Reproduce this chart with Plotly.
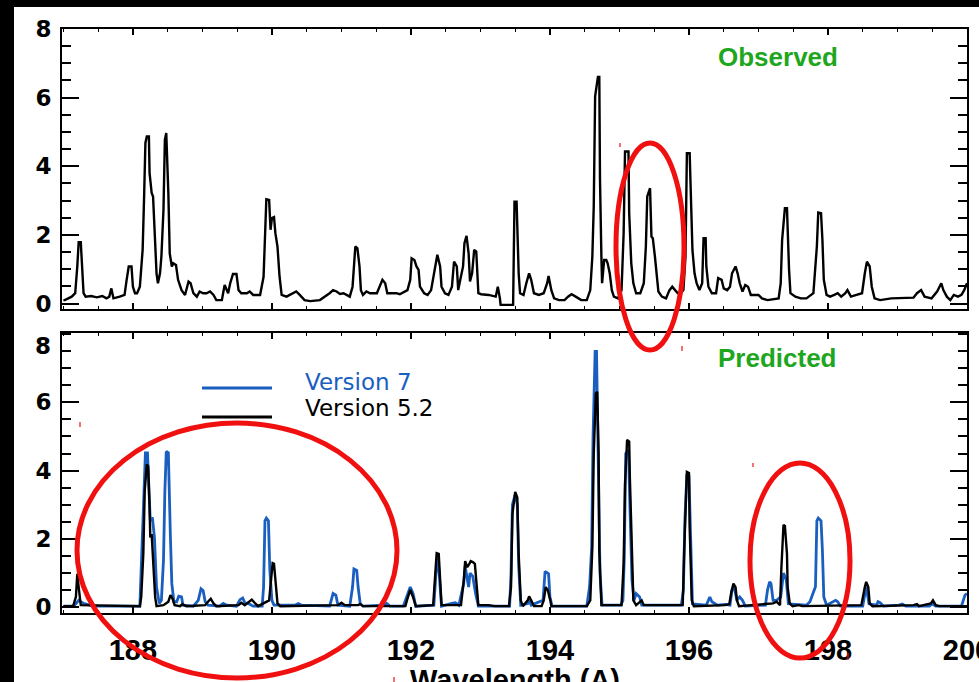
import plotly.graph_objects as go

# ---------------- data ----------------
obs_wl = [187.00, 187.02, 187.12, 187.17, 187.20, 187.22, 187.25, 187.27, 187.29, 187.32,
          187.40, 187.48, 187.56, 187.62, 187.66, 187.69, 187.72, 187.81, 187.88,
          187.91, 187.94, 187.98, 188.00, 188.03, 188.06, 188.10, 188.14, 188.16, 188.18,
          188.20, 188.23, 188.24, 188.27, 188.29, 188.32, 188.34, 188.36, 188.39, 188.41,
          188.44, 188.46, 188.48, 188.51, 188.53, 188.56, 188.58, 188.62, 188.65, 188.70,
          188.75, 188.80, 188.83, 188.87, 188.92, 188.96, 189.01, 189.06, 189.11, 189.16,
          189.20, 189.28, 189.32, 189.37, 189.40, 189.44, 189.49, 189.52, 189.56, 189.64,
          189.68, 189.73, 189.83, 189.88, 189.90, 189.92, 189.96, 189.98, 190.00, 190.03,
          190.05, 190.08, 190.11, 190.14, 190.21, 190.31, 190.35, 190.40, 190.47, 190.55,
          190.69, 190.83, 190.88, 190.93, 190.98, 191.03, 191.07, 191.12, 191.16, 191.18,
          191.20, 191.23, 191.26, 191.28, 191.31, 191.36, 191.41, 191.51, 191.55, 191.59,
          191.63, 191.66, 191.79, 191.84, 191.95, 191.99, 192.01, 192.05, 192.08, 192.11,
          192.13, 192.19, 192.24, 192.29, 192.35, 192.38, 192.42, 192.44, 192.49, 192.54,
          192.59, 192.62, 192.66, 192.68, 192.71, 192.75, 192.77, 192.80, 192.83, 192.85,
          192.88, 192.91, 192.94, 192.97, 193.01, 193.12, 193.22, 193.25, 193.28, 193.29,
          193.47, 193.49, 193.52, 193.53, 193.55, 193.57, 193.62, 193.66, 193.70, 193.73,
          193.77, 193.84, 193.91, 193.96, 193.98, 194.02, 194.06, 194.13, 194.21, 194.26,
          194.31, 194.37, 194.45, 194.53, 194.58, 194.61, 194.63, 194.65, 194.69, 194.71,
          194.72, 194.74, 194.75, 194.78, 194.81, 194.83, 194.86, 194.89, 194.92, 194.98,
          195.03, 195.06, 195.08, 195.13, 195.14, 195.17, 195.20, 195.24, 195.30, 195.35,
          195.38, 195.40, 195.44, 195.46, 195.48, 195.51, 195.54, 195.56, 195.61, 195.67,
          195.72, 195.76, 195.80, 195.84, 195.88, 195.92, 195.95, 195.97, 196.01, 196.03,
          196.05, 196.08, 196.11, 196.15, 196.19, 196.21, 196.24, 196.25, 196.28, 196.33,
          196.39, 196.42, 196.47, 196.50, 196.55, 196.59, 196.62, 196.67, 196.70, 196.73,
          196.77, 196.81, 196.85, 196.89, 197.00, 197.05, 197.13, 197.29, 197.32, 197.34,
          197.38, 197.41, 197.42, 197.44, 197.46, 197.53, 197.61, 197.69, 197.79, 197.84,
          197.86, 197.90, 197.92, 197.94, 197.98, 198.03, 198.09, 198.14, 198.19, 198.25,
          198.28, 198.33, 198.41, 198.49, 198.53, 198.56, 198.60, 198.63, 198.67, 198.75,
          198.91, 199.07, 199.23, 199.28, 199.34, 199.39, 199.49, 199.57, 199.63, 199.66,
          199.71, 199.76, 199.81, 199.87, 199.92, 199.96, 200.00]
obs_int = [0.10, 0.10, 0.20, 0.30, 1.08, 1.79, 1.79, 1.17, 0.30, 0.20,
           0.22, 0.18, 0.22, 0.15, 0.20, 0.44, 0.15, 0.20, 0.25,
           0.69, 1.08, 1.08, 0.49, 0.30, 0.30, 0.49, 1.56, 3.02, 4.68,
           4.87, 4.87, 3.80, 3.22, 3.12, 1.95, 0.88, 0.59, 0.88, 1.37,
           2.73, 4.77, 4.97, 3.22, 1.46, 1.08, 1.17, 1.12, 0.69, 0.39,
           0.25, 0.64, 0.59, 0.30, 0.20, 0.35, 0.30, 0.30, 0.35, 0.25,
           0.10, 0.10, 0.54, 0.30, 0.59, 0.86, 0.86, 0.39, 0.30, 0.30,
           0.35, 0.25, 0.25, 0.78, 1.85, 3.04, 3.02, 2.15, 2.49, 2.52,
           2.05, 1.66, 0.78, 0.25, 0.20, 0.30, 0.35, 0.25, 0.10, 0.07,
           0.10, 0.30, 0.39, 0.35, 0.28, 0.30, 0.25, 0.20, 0.49, 1.17,
           1.66, 1.61, 1.08, 0.39, 0.25, 0.35, 0.30, 0.30, 0.49, 0.69,
           0.59, 0.30, 0.30, 0.27, 0.39, 0.69, 1.32, 1.27, 1.08, 0.98,
           0.49, 0.30, 0.25, 0.39, 1.08, 1.42, 1.08, 0.49, 0.30, 0.25,
           0.49, 1.22, 1.08, 0.39, 0.69, 1.08, 1.76, 1.97, 1.46, 0.64,
           0.88, 1.56, 1.51, 0.30, 0.27, 0.25, 0.20, 0.49, 0.15, -0.04,
           -0.04, 2.97, 2.97, 2.15, 0.88, 0.30, 0.25, 0.59, 0.88, 0.69,
           0.30, 0.25, 0.30, 0.59, 0.80, 0.39, 0.15, 0.10, 0.10, 0.20,
           0.27, 0.20, 0.10, 0.10, 0.39, 1.37, 2.83, 6.04, 6.60, 6.60,
           3.61, 1.37, 0.59, 1.27, 1.27, 1.17, 0.88, 0.39, 0.20, 0.15,
           0.39, 2.05, 4.43, 4.43, 2.63, 1.17, 0.59, 0.30, 0.30, 0.59,
           1.66, 3.12, 3.36, 1.95, 1.90, 1.37, 0.59, 0.35, 0.20, 0.15,
           0.39, 0.49, 0.39, 0.30, 0.30, 0.39, 1.37, 4.38, 4.38, 2.63,
           1.56, 0.88, 0.59, 0.39, 0.59, 1.90, 1.90, 1.08, 0.49, 0.30,
           0.30, 0.74, 0.69, 0.44, 0.39, 0.49, 0.88, 1.08, 0.88, 0.59,
           0.35, 0.54, 0.49, 0.25, 0.25, 0.15, 0.10, 0.15, 0.59, 1.85,
           2.78, 2.78, 1.85, 0.98, 0.30, 0.20, 0.15, 0.15, 0.30, 1.66,
           2.65, 2.63, 1.85, 0.69, 0.25, 0.20, 0.25, 0.30, 0.20, 0.30,
           0.39, 0.20, 0.25, 0.30, 0.88, 1.22, 1.08, 0.49, 0.15, 0.10,
           0.15, 0.15, 0.17, 0.30, 0.39, 0.20, 0.15, 0.35, 0.59, 0.39,
           0.20, 0.10, 0.25, 0.20, 0.25, 0.39, 0.59]

v52_wl = [187.00, 187.14, 187.18, 187.20, 187.22, 187.25, 188.10, 188.12, 188.15, 188.17,
          188.20, 188.22, 188.24, 188.25, 188.27, 188.29, 188.32, 188.34, 188.44, 188.51,
          188.54, 188.57, 188.60, 188.68, 188.71, 188.77, 189.04, 189.08, 189.12, 189.16,
          189.20, 189.52, 189.56, 189.61, 189.66, 189.71, 189.76, 189.80, 189.96, 189.99,
          190.01, 190.03, 190.06, 190.08, 190.12, 190.95, 191.00, 191.05, 191.24, 191.27,
          191.31, 191.92, 191.95, 191.99, 192.03, 192.07, 192.32, 192.35, 192.37, 192.40,
          192.42, 192.44, 192.72, 192.76, 192.78, 192.81, 192.84, 192.86, 192.89, 192.92,
          192.94, 192.97, 193.12, 193.20, 193.41, 193.44, 193.46, 193.50, 193.53, 193.55,
          193.58, 193.61, 193.68, 193.70, 193.73, 193.77, 193.88, 193.91, 193.94, 193.97,
          194.01, 194.02, 194.53, 194.58, 194.61, 194.63, 194.66, 194.68, 194.70, 194.71,
          194.74, 195.03, 195.06, 195.08, 195.11, 195.14, 195.15, 195.17, 195.20, 195.24,
          195.30, 195.32, 195.35, 195.91, 195.93, 195.95, 195.97, 196.00, 196.01, 196.04,
          196.07, 196.52, 196.58, 196.61, 196.64, 196.67, 196.69, 196.72, 197.21, 197.26,
          197.31, 197.33, 197.36, 197.38, 197.41, 197.42, 197.45, 197.49, 197.58, 197.63,
          198.48, 198.53, 198.55, 198.58, 198.60, 198.64, 199.23, 199.28, 199.31, 199.48,
          199.51, 199.55, 199.60, 200.00]
v52_int = [0.03, 0.03, 0.30, 0.98, 0.59, 0.06, 0.03, 0.30, 1.56, 3.40,
           4.18, 4.13, 2.92, 2.04, 2.14, 1.37, 0.30, 0.03, 0.06, 0.16,
           0.35, 0.25, 0.06, 0.03, 0.09, 0.03, 0.06, 0.16, 0.25, 0.11,
           0.03, 0.06, 0.13, 0.06, 0.13, 0.22, 0.11, 0.03, 0.20, 0.88,
           1.29, 1.27, 0.59, 0.11, 0.03, 0.06, 0.13, 0.06, 0.06, 0.09,
           0.03, 0.03, 0.25, 0.51, 0.30, 0.03, 0.06, 0.98, 1.58, 1.56,
           0.78, 0.06, 0.06, 0.78, 1.35, 1.17, 1.27, 1.35, 1.32, 1.27,
           0.78, 0.06, 0.06, 0.03, 0.03, 0.59, 2.72, 3.38, 3.21, 1.56,
           0.20, 0.03, 0.20, 0.32, 0.20, 0.03, 0.03, 0.20, 0.59, 0.49,
           0.16, 0.03, 0.03, 0.20, 1.75, 4.47, 6.26, 6.31, 4.47, 1.66,
           0.06, 0.06, 1.27, 3.59, 4.90, 4.85, 3.79, 2.34, 0.20, 0.06,
           0.16, 0.20, 0.06, 0.06, 1.56, 2.63, 3.96, 3.93, 2.34, 0.20,
           0.03, 0.06, 0.09, 0.45, 0.69, 0.59, 0.20, 0.03, 0.11, 0.16,
           0.06, 1.17, 2.41, 2.38, 1.56, 0.59, 0.11, 0.03, 0.06, 0.03,
           0.06, 0.59, 0.74, 0.59, 0.11, 0.03, 0.06, 0.09, 0.03, 0.11,
           0.20, 0.06, 0.03, 0.03]

v7_wl = [187.00, 187.15, 187.22, 187.29, 187.33, 187.43, 188.10, 188.12, 188.16, 188.18,
         188.21, 188.23, 188.25, 188.28, 188.31, 188.34, 188.38, 188.41, 188.44, 188.46,
         188.48, 188.51, 188.52, 188.54, 188.56, 188.59, 188.63, 188.66, 188.70, 188.72,
         188.87, 188.94, 188.98, 189.01, 189.04, 189.08, 189.25, 189.30, 189.35, 189.49,
         189.54, 189.58, 189.61, 189.66, 189.73, 189.86, 189.88, 189.90, 189.92, 189.95,
         189.97, 190.00, 190.03, 190.33, 190.38, 190.43, 190.83, 190.86, 190.88, 190.92,
         190.95, 191.12, 191.16, 191.18, 191.22, 191.24, 191.27, 191.31, 191.60, 191.65,
         191.70, 191.89, 191.95, 191.99, 192.03, 192.07, 192.33, 192.36, 192.39, 192.42,
         192.44, 192.59, 192.64, 192.69, 192.76, 192.78, 192.83, 192.85, 192.89, 192.93,
         192.97, 193.42, 193.44, 193.46, 193.50, 193.53, 193.55, 193.58, 193.68, 193.70,
         193.73, 193.90, 193.93, 193.98, 194.00, 194.03, 194.53, 194.57, 194.60, 194.62,
         194.65, 194.67, 194.70, 194.72, 194.75, 195.02, 195.05, 195.07, 195.09, 195.13,
         195.15, 195.18, 195.21, 195.24, 195.29, 195.32, 195.89, 195.92, 195.94, 195.97,
         196.00, 196.02, 196.05, 196.25, 196.30, 196.33, 196.41, 196.52, 196.59, 196.62,
         196.65, 196.69, 196.73, 196.77, 196.81, 197.10, 197.13, 197.16, 197.18, 197.21,
         197.26, 197.32, 197.36, 197.40, 197.43, 197.69, 197.74, 197.82, 197.84, 197.86,
         197.90, 197.92, 197.94, 197.98, 198.11, 198.14, 198.18, 198.50, 198.53, 198.55,
         198.59, 198.70, 198.72, 198.75, 198.80, 199.02, 199.07, 199.12, 199.46, 199.50,
         199.55, 199.92, 199.97, 200.00]
v7_int = [0.03, 0.03, 0.20, 0.11, 0.09, 0.03, 0.03, 1.37, 3.40, 4.52,
          4.52, 3.50, 2.53, 2.63, 2.04, 0.59, 0.11, 0.20, 1.37, 3.40,
          4.56, 4.52, 3.50, 2.04, 0.69, 0.16, 0.16, 0.32, 0.30, 0.06,
          0.03, 0.20, 0.54, 0.49, 0.16, 0.06, 0.03, 0.11, 0.06, 0.03,
          0.22, 0.27, 0.13, 0.11, 0.03, 0.03, 0.59, 2.53, 2.61, 2.53,
          1.08, 0.20, 0.06, 0.06, 0.11, 0.06, 0.03, 0.30, 0.40, 0.35,
          0.06, 0.03, 0.59, 1.12, 1.08, 0.59, 0.11, 0.03, 0.06, 0.11,
          0.03, 0.03, 0.40, 0.59, 0.40, 0.03, 0.06, 1.00, 1.45, 0.60,
          0.03, 0.11, 0.13, 0.06, 0.70, 1.20, 0.59, 1.00, 0.90, 0.40,
          0.03, 0.03, 1.00, 3.00, 3.30, 3.00, 1.20, 0.06, 0.11, 0.20,
          0.06, 0.20, 1.05, 0.98, 0.30, 0.03, 0.03, 0.60, 1.75, 5.00,
          7.49, 7.49, 4.00, 1.00, 0.06, 0.06, 0.20, 1.50, 4.50, 4.60,
          3.00, 0.80, 0.20, 0.40, 0.30, 0.06, 0.06, 0.50, 2.50, 3.90,
          3.85, 2.00, 0.10, 0.06, 0.30, 0.16, 0.06, 0.08, 0.06, 0.50,
          0.60, 0.20, 0.30, 0.20, 0.03, 0.06, 0.50, 0.74, 0.69, 0.20,
          0.20, 0.30, 1.00, 0.80, 0.10, 0.06, 0.16, 0.60, 2.53, 2.61,
          2.53, 1.66, 0.30, 0.06, 0.20, 0.16, 0.03, 0.03, 0.40, 0.60,
          0.10, 0.06, 0.16, 0.13, 0.03, 0.06, 0.09, 0.03, 0.03, 0.10,
          0.03, 0.03, 0.35, 0.40]

x_tickvals = [188, 190, 192, 194, 196, 198, 200]
x_ticktext = ["188", "190", "192", "194", "196", "198", "200"]
y_tickvals = [0, 2, 4, 6, 8]
y_ticktext = ["0", "2", "4", "6", "8"]
legend_names = ["Version 7", "Version 5.2"]
panel_labels = ["Observed", "Predicted"]
x_title = "Wavelength (A)"

# ---------------- styling ----------------
W, H = 979, 682
L, R, T, B = 62, 12, 29, 69
PW, PH = W - L - R, H - T - B
BLUE = "#1a5fc0"
GREEN = "#1ea61e"
RED = "#f01010"
SANS = "Liberation Sans, Arial, sans-serif"
YFONT = "DejaVu Sans, sans-serif"


def px(xp):
    return (xp - L) / PW


def py(yp):
    return (H - B - yp) / PH


fig = go.Figure()
fig.add_trace(go.Scatter(x=obs_wl, y=obs_int, mode="lines", xaxis="x", yaxis="y",
                         line=dict(color="black", width=2.4), showlegend=False))
fig.add_trace(go.Scatter(x=v7_wl, y=v7_int, mode="lines", xaxis="x2", yaxis="y2",
                         line=dict(color=BLUE, width=2.8), showlegend=False, name=legend_names[0]))
fig.add_trace(go.Scatter(x=v52_wl, y=v52_int, mode="lines", xaxis="x2", yaxis="y2",
                         line=dict(color="black", width=2.4), showlegend=False, name=legend_names[1]))

xcommon = dict(range=[186.98, 200], showline=True, linecolor="black", linewidth=2,
               mirror="ticks", ticks="inside", ticklen=6, tickwidth=1.5, tickcolor="black",
               tickvals=x_tickvals, ticktext=x_ticktext, automargin=False,
               minor=dict(dtick=0.5, tick0=188, ticks="inside", ticklen=3, tickwidth=1.3,
                          tickcolor="black", showgrid=False),
               showgrid=False, zeroline=False,
               tickfont=dict(family=SANS, size=29, color="black", weight="bold"))
ycommon = dict(showline=True, linecolor="black", linewidth=2, mirror="ticks",
               ticks="inside", ticklen=17, tickwidth=2, tickcolor="black",
               tickvals=y_tickvals, ticktext=y_ticktext, automargin=False,
               minor=dict(dtick=0.5, tick0=0, ticks="inside", ticklen=9, tickwidth=1.5,
                          tickcolor="black", showgrid=False),
               showgrid=False, zeroline=False, ticklabelstandoff=4,
               tickfont=dict(family=YFONT, size=23, color="black", weight="bold"))

top_dom = [py(309), 1]
bot_dom = [0, py(333)]

fig.update_layout(
    width=W, height=H, margin=dict(l=L, r=R, t=T, b=B, pad=0, autoexpand=False),
    paper_bgcolor="white", plot_bgcolor="white",
    xaxis=dict(xcommon, anchor="y", showticklabels=False),
    yaxis=dict(ycommon, domain=top_dom, range=[-0.16, 8.0], anchor="x"),
    xaxis2=dict(xcommon, anchor="y2", showticklabels=True, ticklabelstandoff=10,
                ticklabeloverflow="allow"),
    yaxis2=dict(ycommon, domain=bot_dom, range=[-0.17, 8.03], anchor="x2",
                tickvals=y_tickvals[:-1], ticktext=y_ticktext[:-1]),
)

anns = []
# bottom panel "8" label sits slightly lower in the original
anns.append(dict(text="<b>%s</b>" % y_ticktext[-1], x=px(53), y=py(346), xref="paper", yref="paper",
                 xanchor="right", yanchor="middle", showarrow=False,
                 font=dict(family=YFONT, size=23, color="black")))
# panel labels
anns.append(dict(text="<b>%s</b>" % panel_labels[0], x=px(778), y=py(57), xref="paper", yref="paper",
                 xanchor="center", yanchor="middle", showarrow=False,
                 font=dict(family=SANS, size=26, color=GREEN)))
anns.append(dict(text="<b>%s</b>" % panel_labels[1], x=px(777), y=py(358), xref="paper", yref="paper",
                 xanchor="center", yanchor="middle", showarrow=False,
                 font=dict(family=SANS, size=26, color=GREEN)))
# legend text
anns.append(dict(text=legend_names[0], x=px(303), y=py(382), xref="paper", yref="paper",
                 xanchor="left", yanchor="middle", showarrow=False,
                 font=dict(family="DejaVu Sans", size=23, color=BLUE)))
anns.append(dict(text=legend_names[1], x=px(303), y=py(408), xref="paper", yref="paper",
                 xanchor="left", yanchor="middle", showarrow=False,
                 font=dict(family="DejaVu Sans", size=23, color="black")))
# x axis title (cut off at the bottom edge, as in the original)
anns.append(dict(text="<b>%s</b>" % x_title, x=0.5, y=py(680), xref="paper", yref="paper",
                 xanchor="center", yanchor="middle", showarrow=False,
                 font=dict(family=SANS, size=29, color="black")))
fig.update_layout(annotations=anns)

shapes = []
# legend lines
shapes.append(dict(type="line", xref="paper", yref="paper", x0=px(202), x1=px(272),
                   y0=py(388), y1=py(388), line=dict(color=BLUE, width=3)))
shapes.append(dict(type="line", xref="paper", yref="paper", x0=px(202), x1=px(272),
                   y0=py(417), y1=py(417), line=dict(color="black", width=3)))
# red ellipses
for (x0, y0, x1, y1) in [(616, 143, 684, 350), (77, 423, 397, 678), (750, 463, 850, 658)]:
    shapes.append(dict(type="circle", xref="paper", yref="paper", x0=px(x0), x1=px(x1),
                       y0=py(y1), y1=py(y0), line=dict(color=RED, width=5), layer="above"))
# tiny red specks
for (xx, ya, yb) in [(620, 143, 147), (682, 346, 351), (80, 422, 427), (753, 463, 467),
                     (848, 653, 660), (394, 677, 682)]:
    shapes.append(dict(type="line", xref="paper", yref="paper", x0=px(xx), x1=px(xx),
                       y0=py(yb), y1=py(ya), line=dict(color=RED, width=1.2)))
# black borders (top and left)
shapes.append(dict(type="rect", xref="paper", yref="paper", x0=px(0), x1=px(W),
                   y0=py(7), y1=py(0), fillcolor="black", line=dict(width=0), layer="above"))
shapes.append(dict(type="rect", xref="paper", yref="paper", x0=px(0), x1=px(14),
                   y0=py(H), y1=py(0), fillcolor="black", line=dict(width=0), layer="above"))
fig.update_layout(shapes=shapes)

fig.write_html("out.html")
